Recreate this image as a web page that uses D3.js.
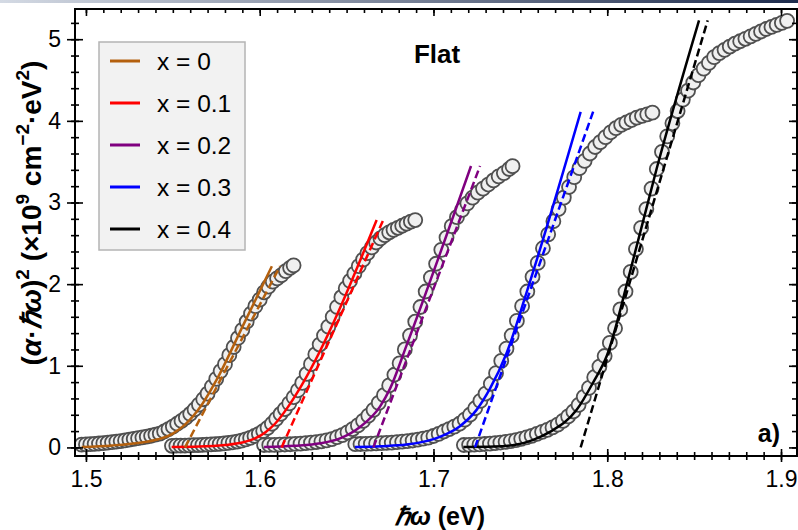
<!DOCTYPE html>
<html>
<head>
<meta charset="utf-8">
<script src="https://cdn.jsdelivr.net/npm/d3@7"></script>
<style>
  body { margin: 0; background: #fff; }
  svg { display: block; font-family: "Liberation Sans", Arial, sans-serif; }
</style>
</head>
<body>
<script>
// legend labels and line colours
var labels = ["x = 0", "x = 0.1", "x = 0.2", "x = 0.3", "x = 0.4"];
var colors = ["#b4600e", "#ff0000", "#800080", "#0000ff", "#000000"];

var xTicks = [1.5, 1.6, 1.7, 1.8, 1.9];
var yTicks = [0, 1, 2, 3, 4, 5];

// measured points (photon energy eV, (a*hw)^2 x1e9)
var s0 = [[1.4975,0.035],[1.5000,0.037],[1.5025,0.040],[1.5050,0.044],[1.5075,0.048],[1.5100,0.052],[1.5125,0.058],[1.5150,0.064],[1.5175,0.071],[1.5200,0.078],
  [1.5225,0.086],[1.5250,0.095],[1.5275,0.104],[1.5300,0.113],[1.5325,0.122],[1.5350,0.132],[1.5375,0.143],[1.5400,0.156],[1.5425,0.170],[1.5450,0.195],
  [1.5475,0.225],[1.5500,0.255],[1.5525,0.290],[1.5550,0.325],[1.5575,0.365],[1.5600,0.410],[1.5625,0.465],[1.5650,0.525],[1.5675,0.590],[1.5700,0.660],
  [1.5725,0.745],[1.5750,0.840],[1.5775,0.935],[1.5800,1.020],[1.5825,1.130],[1.5850,1.230],[1.5875,1.340],[1.5900,1.440],[1.5925,1.540],[1.5950,1.640],
  [1.5975,1.730],[1.6000,1.810],[1.6025,1.900],[1.6050,1.970],[1.6075,2.030],[1.6100,2.070],[1.6125,2.110],[1.6150,2.160],[1.6175,2.200],[1.6195,2.230]];
var s1 = [[1.5495,0.020],[1.5520,0.021],[1.5545,0.022],[1.5570,0.023],[1.5595,0.025],[1.5620,0.027],[1.5645,0.029],[1.5670,0.031],[1.5695,0.034],[1.5720,0.037],
  [1.5745,0.040],[1.5770,0.044],[1.5795,0.049],[1.5820,0.055],[1.5845,0.063],[1.5870,0.072],[1.5895,0.083],[1.5920,0.098],[1.5945,0.117],[1.5970,0.140],
  [1.5995,0.167],[1.6020,0.200],[1.6045,0.240],[1.6070,0.290],[1.6095,0.350],[1.6120,0.410],[1.6145,0.470],[1.6170,0.540],[1.6195,0.615],[1.6220,0.700],
  [1.6245,0.790],[1.6270,0.900],[1.6295,1.020],[1.6320,1.140],[1.6345,1.260],[1.6370,1.370],[1.6395,1.480],[1.6420,1.600],[1.6445,1.720],[1.6470,1.840],
  [1.6495,1.950],[1.6520,2.040],[1.6545,2.130],[1.6570,2.220],[1.6595,2.300],[1.6620,2.380],[1.6645,2.450],[1.6670,2.510],[1.6695,2.560],[1.6720,2.600],
  [1.6745,2.635],[1.6770,2.665],[1.6795,2.690],[1.6820,2.715],[1.6845,2.740],[1.6870,2.765],[1.6895,2.785]];
var s2 = [[1.6025,0.030],[1.6055,0.031],[1.6085,0.032],[1.6115,0.034],[1.6145,0.036],[1.6175,0.039],[1.6205,0.043],[1.6235,0.047],[1.6265,0.052],[1.6295,0.058],
  [1.6325,0.066],[1.6355,0.075],[1.6385,0.086],[1.6415,0.102],[1.6445,0.125],[1.6475,0.150],[1.6505,0.185],[1.6535,0.225],[1.6565,0.270],[1.6595,0.325],
  [1.6625,0.390],[1.6655,0.460],[1.6685,0.545],[1.6715,0.640],[1.6745,0.760],[1.6775,0.890],[1.6805,1.030],[1.6835,1.200],[1.6865,1.370],[1.6895,1.540],
  [1.6925,1.720],[1.6955,1.910],[1.6985,2.080],[1.7015,2.250],[1.7045,2.420],[1.7075,2.570],[1.7105,2.710],[1.7135,2.820],[1.7165,2.910],[1.7195,2.990],
  [1.7225,3.060],[1.7255,3.120],[1.7285,3.170],[1.7315,3.220],[1.7345,3.270],[1.7375,3.320],[1.7405,3.360],[1.7435,3.410],[1.7455,3.445]];
var s3 = [[1.6550,0.040],[1.6580,0.042],[1.6610,0.044],[1.6640,0.046],[1.6670,0.049],[1.6700,0.052],[1.6730,0.055],[1.6760,0.059],[1.6790,0.064],[1.6820,0.070],
  [1.6850,0.077],[1.6880,0.085],[1.6910,0.095],[1.6940,0.107],[1.6970,0.120],[1.7000,0.140],[1.7030,0.165],[1.7060,0.195],[1.7090,0.225],[1.7120,0.255],
  [1.7150,0.290],[1.7180,0.340],[1.7210,0.400],[1.7240,0.480],[1.7270,0.570],[1.7300,0.660],[1.7330,0.780],[1.7360,0.910],[1.7390,1.060],[1.7420,1.210],
  [1.7450,1.370],[1.7480,1.550],[1.7510,1.730],[1.7540,1.910],[1.7570,2.090],[1.7600,2.260],[1.7630,2.440],[1.7660,2.610],[1.7690,2.770],[1.7720,2.920],
  [1.7750,3.060],[1.7780,3.190],[1.7810,3.310],[1.7840,3.420],[1.7870,3.510],[1.7900,3.600],[1.7930,3.680],[1.7960,3.740],[1.7990,3.800],[1.8020,3.860],
  [1.8050,3.910],[1.8080,3.950],[1.8110,3.980],[1.8140,4.010],[1.8170,4.040],[1.8200,4.060],[1.8230,4.080],[1.8260,4.100]];
var s4 = [[1.7175,0.030],[1.7205,0.032],[1.7235,0.035],[1.7265,0.038],[1.7295,0.042],[1.7325,0.047],[1.7355,0.053],[1.7385,0.060],[1.7415,0.068],[1.7445,0.078],
  [1.7475,0.090],[1.7505,0.105],[1.7535,0.122],[1.7565,0.142],[1.7595,0.165],[1.7625,0.190],[1.7655,0.215],[1.7685,0.245],[1.7715,0.280],[1.7745,0.325],
  [1.7775,0.380],[1.7805,0.440],[1.7835,0.520],[1.7865,0.620],[1.7895,0.730],[1.7925,0.860],[1.7955,0.990],[1.7985,1.120],[1.8015,1.280],[1.8045,1.460],
  [1.8075,1.690],[1.8105,1.910],[1.8135,2.150],[1.8165,2.430],[1.8195,2.690],[1.8225,2.920],[1.8255,3.170],[1.8285,3.410],[1.8315,3.620],[1.8345,3.810],
  [1.8375,3.970],[1.8405,4.120],[1.8435,4.260],[1.8465,4.370],[1.8495,4.470],[1.8525,4.560],[1.8555,4.640],[1.8585,4.710],[1.8615,4.780],[1.8645,4.830],
  [1.8675,4.870],[1.8705,4.910],[1.8735,4.945],[1.8765,4.975],[1.8795,5.005],[1.8825,5.035],[1.8855,5.065],[1.8885,5.095],[1.8915,5.125],[1.8945,5.150],
  [1.8975,5.175],[1.9005,5.200],[1.9035,5.225]];

// fitted curves (solid)
var fit0 = [[1.4975,0.005],[1.515,0.025],[1.53,0.055],[1.5416,0.10],[1.55,0.17],[1.557,0.28],[1.5666,0.52],[1.575,0.82],[1.591,1.52],[1.607,2.22]];
var fit1 = [[1.5493,0.005],[1.565,0.01],[1.58,0.03],[1.59,0.06],[1.5973,0.11],[1.6035,0.19],[1.6088,0.29],[1.6164,0.50],[1.6241,0.76],[1.6673,2.785]];
var fit2 = [[1.6025,0.005],[1.62,0.02],[1.635,0.05],[1.6462,0.11],[1.6577,0.25],[1.6692,0.50],[1.675,0.72],[1.6845,1.25],[1.7216,3.447]];
var fit3 = [[1.6548,0.005],[1.67,0.015],[1.6845,0.035],[1.7037,0.13],[1.7152,0.26],[1.7248,0.46],[1.7325,0.72],[1.742,1.15],[1.7536,1.90],[1.7847,4.11]];
var fit4 = [[1.7172,0.005],[1.735,0.01],[1.7479,0.035],[1.757,0.09],[1.767,0.19],[1.7824,0.46],[1.792,0.80],[1.7997,1.12],[1.8131,2.15],[1.8285,3.42],[1.8528,5.23]];

// linear extrapolations (dashed)
var tan0 = [[1.557,0],[1.6117,2.22]];
var tan1 = [[1.6126,0],[1.6711,2.785]];
var tan2 = [[1.6654,0],[1.7268,3.447]];
var tan3 = [[1.7239,0],[1.792,4.12]];
var tan4 = [[1.7847,0],[1.8578,5.23]];

var series = [s0, s1, s2, s3, s4];
var fits = [fit0, fit1, fit2, fit3, fit4];
var tans = [tan0, tan1, tan2, tan3, tan4];

var W = 798, H = 530;
var mLeft = 75, mRight = 797, mTop = 9, mBottom = 456;

var svg = d3.select("body").append("svg")
    .attr("width", W)
    .attr("height", H);

// thin header strip at the very top of the screenshot
var grad = svg.append("defs").append("linearGradient").attr("id", "hdr");
grad.append("stop").attr("offset", "0%").attr("stop-color", "#d4dae4");
grad.append("stop").attr("offset", "100%").attr("stop-color", "#1d2b4c");
svg.append("rect").attr("x", 0).attr("y", 0).attr("width", W).attr("height", 3).attr("fill", "url(#hdr)");

var x = d3.scaleLinear().domain([1.4937, 1.9092]).range([mLeft, mRight]);
var y = d3.scaleLinear().domain([-0.105, 5.37]).range([mBottom, mTop]);

svg.append("clipPath").attr("id", "plotclip")
    .append("rect").attr("x", mLeft).attr("y", mTop).attr("width", mRight - mLeft).attr("height", mBottom - mTop);

var plot = svg.append("g").attr("clip-path", "url(#plotclip)");

// markers
series.forEach(function (s) {
    plot.append("g").selectAll("circle")
        .data(s)
        .enter().append("circle")
        .attr("cx", function (d) { return x(d[0]); })
        .attr("cy", function (d) { return y(d[1]); })
        .attr("r", 7)
        .attr("fill", "#f0f0f0")
        .attr("stroke", "#505050")
        .attr("stroke-width", 1.8);
});

var line = d3.line()
    .x(function (d) { return x(d[0]); })
    .y(function (d) { return y(d[1]); });
var curve = d3.line()
    .x(function (d) { return x(d[0]); })
    .y(function (d) { return y(d[1]); })
    .curve(d3.curveMonotoneX);

fits.forEach(function (f, i) {
    plot.append("path").datum(f)
        .attr("d", curve)
        .attr("fill", "none")
        .attr("stroke", colors[i])
        .attr("stroke-width", 2.5);
});
tans.forEach(function (t, i) {
    plot.append("path").datum(t)
        .attr("d", line)
        .attr("fill", "none")
        .attr("stroke", colors[i])
        .attr("stroke-width", 2.5)
        .attr("stroke-dasharray", "8,4");
});

// axes: ticks cross the bottom/left lines, point inward on top/right
var xMinor = d3.range(1.50, 1.905, 0.01);
var yMinor = d3.range(0, 5.3, 0.2);

function styleAxis(g) {
    g.attr("font-size", 23).attr("font-family", "'Liberation Sans', Arial, sans-serif");
    g.select(".domain").remove();
    g.selectAll("line").attr("stroke", "#000").attr("stroke-width", 1.6);
    g.selectAll("text").attr("fill", "#000");
}

svg.append("g").attr("transform", "translate(0," + mBottom + ")")
    .call(d3.axisBottom(x).tickValues(xTicks).tickSize(6).tickPadding(9).tickFormat(d3.format(".1f")))
    .call(styleAxis);
svg.append("g").attr("transform", "translate(0," + mBottom + ")")
    .call(d3.axisTop(x).tickValues(xTicks).tickSize(7).tickFormat(""))
    .call(styleAxis);
svg.append("g").attr("transform", "translate(0," + mBottom + ")")
    .call(d3.axisBottom(x).tickValues(xMinor).tickSize(4).tickFormat(""))
    .call(styleAxis);
svg.append("g").attr("transform", "translate(0," + mBottom + ")")
    .call(d3.axisTop(x).tickValues(xMinor).tickSize(4).tickFormat(""))
    .call(styleAxis);

svg.append("g").attr("transform", "translate(0," + mTop + ")")
    .call(d3.axisBottom(x).tickValues(xTicks).tickSize(7).tickFormat(""))
    .call(styleAxis);
svg.append("g").attr("transform", "translate(0," + mTop + ")")
    .call(d3.axisBottom(x).tickValues(xMinor).tickSize(4).tickFormat(""))
    .call(styleAxis);

svg.append("g").attr("transform", "translate(" + mLeft + ",0)")
    .call(d3.axisLeft(y).tickValues(yTicks).tickSize(8).tickPadding(6).tickFormat(d3.format("d")))
    .call(styleAxis);
svg.append("g").attr("transform", "translate(" + mLeft + ",0)")
    .call(d3.axisRight(y).tickValues(yTicks).tickSize(8).tickFormat(""))
    .call(styleAxis);
svg.append("g").attr("transform", "translate(" + mLeft + ",0)")
    .call(d3.axisLeft(y).tickValues(yMinor).tickSize(4).tickFormat(""))
    .call(styleAxis);
svg.append("g").attr("transform", "translate(" + mLeft + ",0)")
    .call(d3.axisRight(y).tickValues(yMinor).tickSize(4).tickFormat(""))
    .call(styleAxis);

svg.append("g").attr("transform", "translate(" + mRight + ",0)")
    .call(d3.axisLeft(y).tickValues(yTicks).tickSize(8).tickFormat(""))
    .call(styleAxis);
svg.append("g").attr("transform", "translate(" + mRight + ",0)")
    .call(d3.axisLeft(y).tickValues(yMinor).tickSize(5).tickFormat(""))
    .call(styleAxis);

// frame
svg.append("rect")
    .attr("x", mLeft).attr("y", mTop)
    .attr("width", mRight - mLeft).attr("height", mBottom - mTop)
    .attr("fill", "none").attr("stroke", "#000").attr("stroke-width", 2);

// legend
var legend = svg.append("g");
legend.append("rect")
    .attr("x", 99).attr("y", 42).attr("width", 146).attr("height", 208)
    .attr("fill", "#f2f2f2").attr("stroke", "#b4b4b4").attr("stroke-width", 1.5);
var items = legend.selectAll(".item")
    .data(labels)
    .enter().append("g")
    .attr("class", "item")
    .attr("transform", function (d, i) { return "translate(0," + (61 + i * 42) + ")"; });
items.append("line")
    .attr("x1", 110).attr("x2", 140)
    .attr("stroke", function (d, i) { return colors[i]; })
    .attr("stroke-width", 3);
items.append("text")
    .attr("x", 157).attr("y", 8.5)
    .attr("font-size", "24.5px")
    .attr("fill", "#000")
    .text(function (d) { return d; });

// titles
svg.append("text")
    .attr("x", 437).attr("y", 63)
    .attr("text-anchor", "middle")
    .attr("font-size", "26px").attr("font-weight", "bold")
    .text("Flat");

svg.append("text")
    .attr("x", 780).attr("y", 442)
    .attr("text-anchor", "end")
    .attr("font-size", "25px").attr("font-weight", "bold")
    .text("a)");

var xl = svg.append("text")
    .attr("x", 440).attr("y", 525)
    .attr("text-anchor", "middle")
    .attr("font-size", "25px").attr("font-weight", "bold");
xl.append("tspan").attr("font-style", "italic").text("ℏω");
xl.append("tspan").text(" (eV)");

var yl = svg.append("text")
    .attr("transform", "translate(41,213) rotate(-90)")
    .attr("text-anchor", "middle")
    .attr("font-size", "28px").attr("font-weight", "bold");
yl.append("tspan").text("(");
yl.append("tspan").attr("font-style", "italic").text("α");
yl.append("tspan").text("·");
yl.append("tspan").attr("font-style", "italic").text("ℏω");
yl.append("tspan").text(")");
yl.append("tspan").attr("dy", -12).attr("font-size", "19px").text("2");
yl.append("tspan").attr("dy", 12).text(" (×10");
yl.append("tspan").attr("dy", -12).attr("font-size", "19px").text("9");
yl.append("tspan").attr("dy", 12).text(" cm");
yl.append("tspan").attr("dy", -12).attr("font-size", "19px").text("−2");
yl.append("tspan").attr("dy", 12).text("·eV");
yl.append("tspan").attr("dy", -12).attr("font-size", "19px").text("2");
yl.append("tspan").attr("dy", 12).text(")");
</script>
</body>
</html>
